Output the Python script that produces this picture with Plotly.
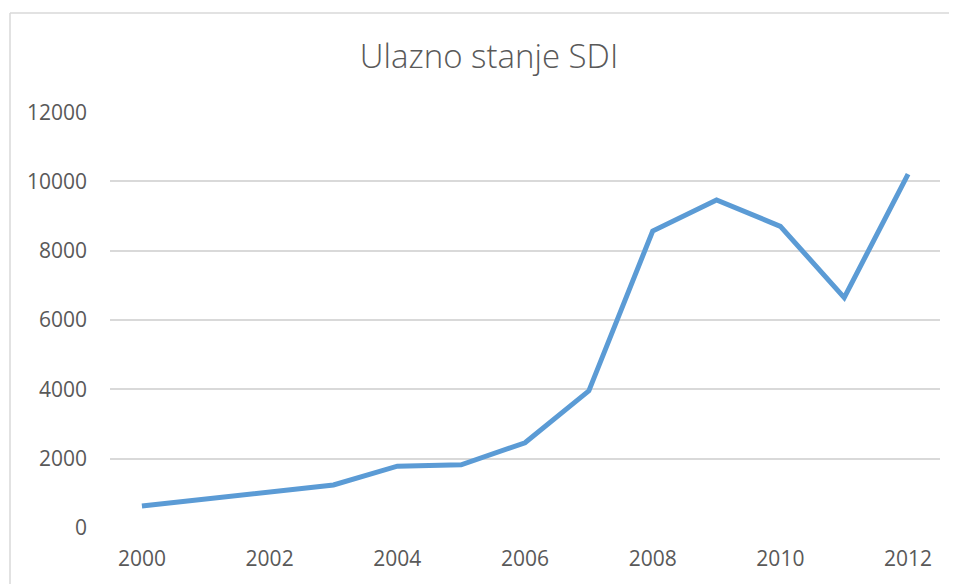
import plotly.graph_objects as go

years = list(range(2000, 2013))
values = [630, 830, 1040, 1235, 1780, 1820, 2455, 3955, 8570, 9465, 8705, 6645, 10215]
y_ticks = [0, 2000, 4000, 6000, 8000, 10000, 12000]
y_tick_text = ["0", "2000", "4000", "6000", "8000", "10000", "12000"]
x_ticks = [2000, 2002, 2004, 2006, 2008, 2010, 2012]
title_text = "Ulazno stanje SDI"

W, H = 957, 584
OFF = 8  # page offset of the figure
L, T = 110 - OFF, 112 - OFF
R = W - (940 - OFF)
B = H - (528 - OFF)
pw, ph = W - L - R, H - T - B

fig = go.Figure()
fig.add_trace(go.Scatter(
    x=years, y=values, mode="lines",
    line=dict(color="#5B9BD5", width=5),
    showlegend=False, hoverinfo="x+y",
))

# chart border (top and left)
bx = (10 - OFF - L) / pw
by = (H - B - (13 - OFF)) / ph
fig.add_shape(type="line", xref="paper", yref="paper", x0=bx, x1=1.2,
              y0=by, y1=by, line=dict(color="#D9D9D9", width=1.5))
fig.add_shape(type="line", xref="paper", yref="paper", x0=bx, x1=bx,
              y0=by, y1=-0.3, line=dict(color="#D9D9D9", width=1.5))

fig.update_layout(
    width=W, height=H,
    margin=dict(l=L, r=R, t=T, b=B),
    paper_bgcolor="white", plot_bgcolor="white",
    title=dict(text=title_text, x=(489 - OFF) / W, xanchor="center",
               y=1 - (56 - OFF) / H, yanchor="middle",
               xref="container", yref="container",
               font=dict(family="Open Sans", size=33, color="#595959", weight=300)),
    font=dict(family="Open Sans", color="#595959"),
    xaxis=dict(range=[1999.5, 2012.5], tickvals=x_ticks, showgrid=False, zeroline=False,
               showline=False, ticks="", tickfont=dict(size=21, color="#595959"),
               ticklabelstandoff=16, fixedrange=True),
    yaxis=dict(range=[-6, 12006], tickvals=y_ticks, ticktext=y_tick_text,
               showgrid=True, gridcolor="#D9D9D9",
               gridwidth=1.5, zeroline=False, showline=False, ticks="",
               tickfont=dict(size=21, color="#595959"), ticklabelstandoff=22,
               fixedrange=True),
)

fig.write_html("out.html")
